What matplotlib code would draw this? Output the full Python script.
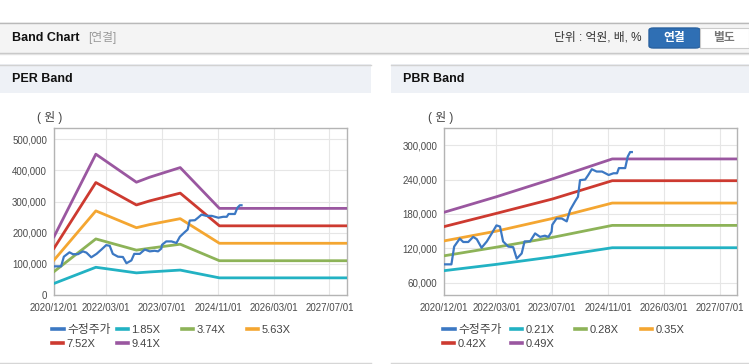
import matplotlib
matplotlib.use("Agg")
import matplotlib.pyplot as plt
import matplotlib.dates as mdates
from matplotlib.patches import Rectangle, FancyBboxPatch
from matplotlib.ticker import FuncFormatter
import pandas as pd

plt.rcParams["font.family"] = ["Liberation Sans", "Noto Sans CJK KR"]

# adjusted close (수정주가), shared by both panels
price_dates = [
    "2020-12-01", "2021-01-01", "2021-02-01", "2021-02-25", "2021-04-15", "2021-05-15",
    "2021-06-28", "2021-08-10", "2021-09-10", "2021-10-22", "2021-12-07", "2022-01-19",
    "2022-03-01", "2022-04-01", "2022-04-28", "2022-06-12", "2022-07-25", "2022-08-25",
    "2022-10-07", "2022-11-01", "2022-12-19", "2023-02-01", "2023-03-16", "2023-04-28",
    "2023-05-28", "2023-06-25", "2023-07-01", "2023-08-07", "2023-09-22", "2023-11-04",
    "2023-12-04", "2024-01-16", "2024-02-10", "2024-02-28", "2024-04-13", "2024-05-10",
    "2024-06-10", "2024-07-22", "2024-09-07", "2024-11-04", "2024-12-16", "2025-01-16",
    "2025-02-01", "2025-03-28", "2025-04-19", "2025-05-10", "2025-05-25",
]
price_values = [
    92000, 92000, 92000, 123000, 137000, 131000,
    131000, 140000, 136000, 121000, 132000, 146000,
    160000, 158000, 132000, 123000, 122000, 102000,
    111000, 132000, 132000, 146000, 140000, 142000,
    140000, 149000, 161000, 172000, 172000, 167000,
    187000, 202000, 210000, 239000, 240000, 248000,
    258000, 254000, 254000, 248000, 251000, 251000,
    260000, 260000, 280000, 288000, 288000,
]

per_dates = ["2020-12-01", "2021-12-01", "2022-11-20", "2023-03-15", "2023-12-07", "2024-11-13", "2027-12-01"]
per_labels = ["1.85X", "3.74X", "5.63X", "7.52X", "9.41X"]
per_185 = [37000, 89000, 71000, 74000, 80000, 55000, 55000]
per_374 = [75000, 180000, 144000, 150000, 163000, 110000, 110000]
per_563 = [112000, 270000, 216000, 226000, 245000, 166000, 166000]
per_752 = [150000, 361000, 289000, 302000, 327000, 222000, 222000]
per_941 = [187000, 452000, 362000, 378000, 409000, 278000, 278000]

pbr_dates = ["2020-12-01", "2022-03-01", "2023-07-01", "2024-12-05", "2027-12-01"]
pbr_labels = ["0.21X", "0.28X", "0.35X", "0.42X", "0.49X"]
pbr_021 = [81000, 92000, 105000, 121000, 121000]
pbr_028 = [107000, 122000, 139000, 160000, 160000]
pbr_035 = [133000, 150000, 172000, 199000, 199000]
pbr_042 = [158000, 181000, 206000, 238000, 238000]
pbr_049 = [183000, 210000, 241000, 276000, 276000]

x_ticks = ["2020/12/01", "2022/03/01", "2023/07/01", "2024/11/01", "2026/03/01", "2027/07/01"]
per_yticks = [0, 100000, 200000, 300000, 400000, 500000]
pbr_yticks = [60000, 120000, 180000, 240000, 300000]

price_color = "#3c78c3"
band_colors = ["#22b2c3", "#8db358", "#f4a631", "#cd3a30", "#9a57a0"]

W, H = 749, 364
fig = plt.figure(figsize=(W / 100, H / 100), dpi=100)


def fx(px):
    return px / W


def fy(py):
    return 1 - py / H


def rect(x0, y0, x1, y1, **kw):
    fig.add_artist(Rectangle((fx(x0), fy(y1)), fx(x1) - fx(x0), fy(y0) - fy(y1),
                             transform=fig.transFigure, **kw))


def hline(x0, x1, y, color, lw=1.0):
    fig.add_artist(plt.Line2D([fx(x0), fx(x1)], [fy(y), fy(y)], transform=fig.transFigure,
                              color=color, lw=lw))


# top header bar
rect(0, 22, W, 53, facecolor="#f4f4f4", edgecolor="none")
hline(0, W, 22.5, "#b9b9b9")
hline(0, W, 52.5, "#c4c4c4")
hline(0, W, 53.5, "#e2e2e2")
fig.text(fx(12), fy(38), "Band Chart", fontsize=9, fontweight="bold", va="center", color="#111111")
fig.text(fx(88), fy(38), "[연결]", fontsize=8.5, va="center", color="#9a9a9a")
fig.text(fx(642), fy(38), "단위 : 억원, 배, %", fontsize=8.5, va="center", ha="right", color="#333333")
fig.add_artist(FancyBboxPatch((fx(649), fy(48)), fx(51), fy(28) - fy(48),
                              boxstyle="round,pad=0,rounding_size=0.006", transform=fig.transFigure,
                              facecolor="#2f6fb4", edgecolor="#2a62a0"))
rect(700, 28, 748.5, 48, facecolor="white", edgecolor="#cccccc", lw=0.8)
fig.text(fx(674.5), fy(38), "연결", fontsize=8.5, fontweight="bold", va="center", ha="center", color="white")
fig.text(fx(724), fy(38), "별도", fontsize=8.5, fontweight="bold", va="center", ha="center", color="#777777")

# panel headers
for x0, x1, title in [(0, 371, "PER Band"), (391, W, "PBR Band")]:
    rect(x0, 64, x1, 93, facecolor="#eef1f6", edgecolor="none")
    hline(x0, x1, 64.5, "#d2d2d2")
    hline(x0, x1, 362.5, "#d6d6d6")
    fig.text(fx(x0 + 12), fy(79), title, fontsize=9, fontweight="bold", va="center", color="#111111")

xlim = pd.to_datetime(["2020-12-01", "2027-12-01"])
tick_dates = pd.to_datetime(x_ticks, format="%Y/%m/%d")
dates_p = pd.to_datetime(price_dates)


def draw_panel(left, band_dates, bands, labels, ylim, yticks, col_offsets):
    ax = fig.add_axes([fx(left), fy(295), fx(293), fy(128) - fy(295)])
    d = pd.to_datetime(band_dates)
    price_line, = ax.plot(dates_p, price_values, color=price_color, lw=1.6, label="수정주가", zorder=4)
    band_lines = []
    for vals, lab, col in zip(bands, labels, band_colors):
        ln, = ax.plot(d, vals, color=col, lw=2.0, label=lab, zorder=3)
        band_lines.append(ln)
    ax.set_xlim(xlim[0], xlim[1])
    ax.set_ylim(*ylim)
    ax.set_yticks(yticks)
    ax.set_xticks(tick_dates)
    ax.xaxis.set_major_formatter(mdates.DateFormatter("%Y/%m/%d"))
    ax.yaxis.set_major_formatter(FuncFormatter(lambda v, p: f"{int(v):,}"))
    ax.grid(True, color="#e6e6e6", lw=0.8)
    ax.set_axisbelow(True)
    for s in ax.spines.values():
        s.set_color("#b4b4b4")
        s.set_linewidth(1.0)
    ax.tick_params(length=0, labelsize=7, colors="#4a4a4a", pad=5)
    ax.tick_params(axis="x", pad=6)
    fig.text(fx(left - 4), fy(118), "( 원 )", fontsize=8.5, ha="center", va="center", color="#444444")

    # legend laid out on a fixed grid, one small legend per entry
    handles = [price_line] + band_lines
    row_y = [330, 344]
    for i, h in enumerate(handles):
        leg = fig.legend(handles=[h], labels=[h.get_label()], loc="center left",
                         bbox_to_anchor=(fx(left + col_offsets[i % 4]), fy(row_y[i // 4])),
                         bbox_transform=fig.transFigure, frameon=False,
                         fontsize=8.5 if i == 0 else 8, handlelength=1.0, handletextpad=0.3,
                         borderpad=0, borderaxespad=0)
        for t in leg.get_texts():
            t.set_color("#444444")
        for ln in leg.get_lines():
            ln.set_linewidth(2.6)
    return ax


draw_panel(54, per_dates, [per_185, per_374, per_563, per_752, per_941], per_labels,
           (0, 536000), per_yticks, [-1.7, 63, 128, 193])
draw_panel(444.3, pbr_dates, [pbr_021, pbr_028, pbr_035, pbr_042, pbr_049], pbr_labels,
           (38500, 330000), pbr_yticks, [-1, 67, 131, 197])

fig.savefig("out.png", dpi=100)
